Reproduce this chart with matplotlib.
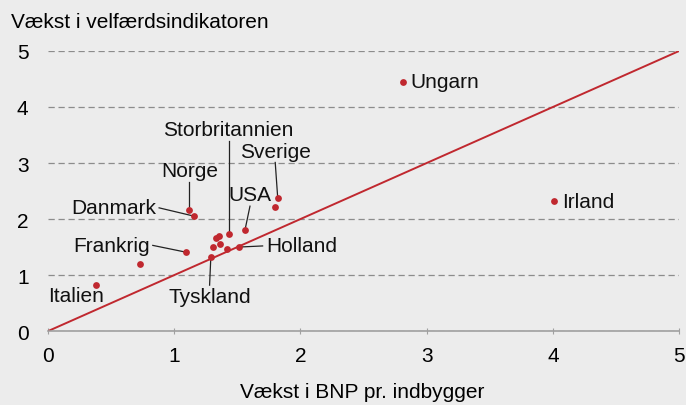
import matplotlib.pyplot as plt

plt.rcParams['font.family'] = ['Liberation Sans', 'DejaVu Sans']

# growth in GDP per capita (x) and welfare indicator (y)
countries = ['Ungarn', 'Irland', 'Italien', '', 'Frankrig', 'Danmark', 'Norge',
             'Storbritannien', 'Sverige', '', 'USA', 'Holland', '', 'Tyskland',
             '', '', '', '']
bnp = [2.81, 4.01, 0.38, 0.73, 1.09, 1.16, 1.12, 1.43, 1.82, 1.80, 1.56, 1.51,
       1.42, 1.29, 1.31, 1.36, 1.33, 1.355]
velfaerd = [4.45, 2.32, 0.82, 1.20, 1.41, 2.05, 2.16, 1.73, 2.37, 2.22, 1.80,
            1.50, 1.46, 1.33, 1.50, 1.55, 1.67, 1.70]

# label text position (data units), alignment, leader line or not
label_pos = {
    'Ungarn': ((2.87, 4.45), 'left', False),
    'Irland': ((4.07, 2.32), 'left', False),
    'Italien': ((0.22, 0.64), 'center', False),
    'Frankrig': ((0.81, 1.53), 'right', True),
    'Danmark': ((0.86, 2.2), 'right', True),
    'Norge': ((1.12, 2.86), 'center', True),
    'Storbritannien': ((1.43, 3.59), 'center', True),
    'Sverige': ((1.80, 3.21), 'center', True),
    'USA': ((1.60, 2.43), 'center', True),
    'Holland': ((1.73, 1.52), 'left', True),
    'Tyskland': ((1.28, 0.62), 'center', True),
}

bg = '#ececec'
red = '#c0282f'
fs = 15

fig = plt.figure(figsize=(6.86, 4.06), dpi=100, facecolor=bg)
ax = fig.add_axes([0.070, 0.182, 0.920, 0.690], facecolor=bg)

ax.plot([0, 5], [0, 5], color=red, lw=1.4, zorder=2)
ax.scatter(bnp, velfaerd, s=24, color=red, zorder=3, linewidths=0)

for name, x, y in zip(countries, bnp, velfaerd):
    if not name:
        continue
    (tx, ty), ha, leader = label_pos[name]
    ax.text(tx, ty, name, ha=ha, va='center', fontsize=fs, color='#111111', zorder=4)
    if leader:
        # start leader at edge of text
        if ha == 'right':
            sx, sy = tx + 0.02, ty
        elif ha == 'left':
            sx, sy = tx - 0.03, ty
        elif ty > y:
            sx, sy = tx, ty - 0.2
        else:
            sx, sy = tx, ty + 0.2
        ax.plot([sx, x], [sy, y], color='#222222', lw=0.9, zorder=2)

ax.set_xlim(0, 5)
ax.set_ylim(0, 5)
ax.set_xticks(range(6))
ax.set_yticks(range(6))
ax.grid(axis='y', color='#8c8c8c', ls=(0, (5, 3)), lw=0.9)
ax.set_axisbelow(True)
for s in ['top', 'right', 'left']:
    ax.spines[s].set_visible(False)
ax.spines['bottom'].set_color('#a0a0a0')
ax.spines['bottom'].set_linewidth(1.2)
ax.tick_params(axis='x', direction='inout', length=5, color='#a0a0a0',
               labelsize=fs, pad=8)
ax.tick_params(axis='y', length=0, labelsize=fs, pad=14)

fig.text(0.016, 0.945, 'Vækst i velfærdsindikatoren', fontsize=fs, va='center')
fig.text(0.528, 0.033, 'Vækst i BNP pr. indbygger', fontsize=fs, ha='center', va='center')

fig.savefig('out.png', dpi=100, facecolor=bg)
